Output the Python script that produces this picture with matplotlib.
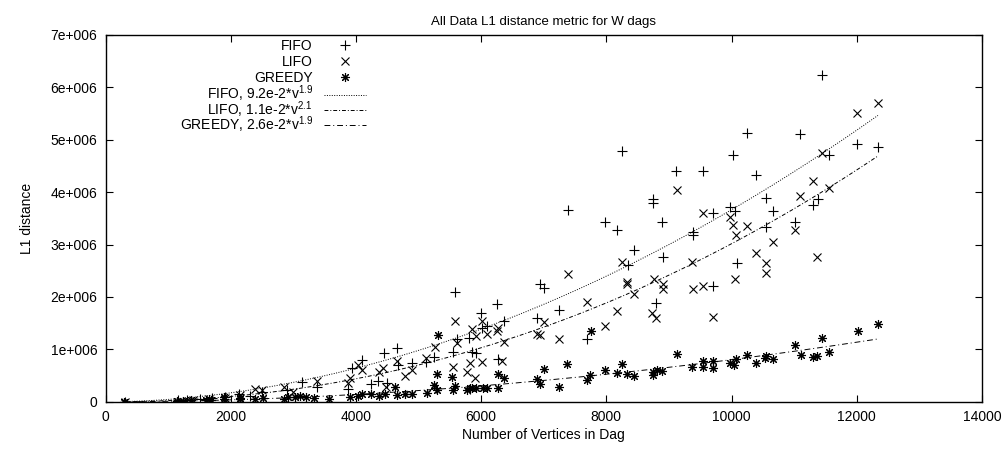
import numpy as np
import matplotlib
matplotlib.use('Agg')
import matplotlib.pyplot as plt

plt.rcParams['font.family'] = ['Liberation Sans', 'DejaVu Sans']
plt.rcParams['mathtext.fontset'] = 'custom'
plt.rcParams['mathtext.rm'] = 'Liberation Sans'
plt.rcParams['mathtext.it'] = 'Liberation Sans:italic'

# data: vertices, L1 distance in units of 1e6
fifo_v = [300, 1150, 1300, 1500, 1700, 1900, 2130, 2300, 2500, 2900, 3130, 3370, 3870, 3930,
          4090, 4240, 4350, 4440, 4490, 4650, 4670, 4890, 5110, 5240, 5270, 5550, 5580, 5610,
          5800, 5820, 5850, 5910, 5990, 6010, 6090, 6250, 6270, 6360, 6890, 6940, 7000, 7240,
          7380, 7690, 7980, 8170, 8250, 8340, 8440, 8740, 8750, 8790, 8890, 8900, 9110, 9380,
          9380, 9540, 9700, 9700, 9970, 10020, 10050, 10090, 10250, 10390, 10550, 10550, 10660,
          11010, 11090, 11300, 11380, 11440, 11560, 12000, 12340]
fifo_l = [0.005, 0.03, 0.04, 0.05, 0.07, 0.09, 0.15, 0.12, 0.18, 0.22, 0.38, 0.29, 0.25, 0.65,
          0.80, 0.34, 0.40, 0.93, 0.36, 1.03, 0.71, 0.74, 0.76, 0.86, 0.27, 0.95, 2.10, 1.20,
          1.22, 0.25, 0.95, 0.93, 1.70, 1.41, 1.45, 1.87, 0.82, 1.55, 1.60, 2.25, 2.18, 1.76,
          3.65, 1.20, 3.42, 3.28, 4.79, 2.61, 2.90, 3.87, 3.80, 1.89, 3.42, 2.77, 4.41, 3.24,
          3.19, 4.41, 3.61, 2.20, 3.72, 4.71, 3.63, 2.65, 5.13, 4.33, 3.89, 3.34, 3.63,
          3.42, 5.11, 3.76, 3.87, 6.24, 4.71, 4.92, 4.85]

lifo_v = [300, 1200, 1400, 1650, 1900, 2140, 2380, 2500, 2850, 3000, 3370, 3870, 3900, 4030,
          4090, 4360, 4430, 4480, 4650, 4780, 4890, 5110, 5260, 5550, 5580, 5610, 5770, 5820,
          5850, 5900, 5910, 6010, 6010, 6090, 6250, 6270, 6330, 6360, 6890, 6940, 7000, 7240,
          7380, 7690, 7980, 8170, 8250, 8330, 8330, 8440, 8730, 8760, 8790, 8900, 8900, 9130,
          9370, 9380, 9540, 9540, 9700, 9970, 10020, 10050, 10070, 10250, 10390, 10550, 10550,
          10660, 11010, 11090, 11300, 11360, 11440, 11560, 12000, 12340]
lifo_l = [0.005, 0.02, 0.03, 0.05, 0.07, 0.13, 0.25, 0.22, 0.29, 0.18, 0.40, 0.36, 0.46, 0.71,
          0.61, 0.57, 0.65, 0.29, 0.78, 0.50, 0.60, 0.84, 1.05, 0.67, 1.55, 1.13, 0.57, 0.74,
          1.39, 0.46, 1.26, 1.55, 0.76, 1.30, 1.36, 1.41, 0.78, 1.15, 1.30, 1.28, 1.53, 1.20,
          2.44, 1.91, 1.45, 1.74, 2.67, 2.29, 2.25, 2.06, 1.70, 2.35, 1.60, 2.25, 2.16, 4.03,
          2.67, 2.16, 3.61, 2.21, 1.62, 3.53, 3.38, 2.35, 3.19, 3.36, 2.84, 2.65, 2.46,
          3.05, 3.28, 3.93, 4.22, 2.77, 4.75, 4.08, 5.51, 5.69]

greedy_v = [290, 1140, 1230, 1370, 1610, 1690, 1650, 1890, 1890, 2140, 2140, 2380, 2510, 2850,
            2910, 3030, 3100, 3200, 3330, 3570, 3900, 4030, 4090, 4240, 4360, 4470, 4630, 4650,
            4780, 4890, 5130, 5240, 5290, 5290, 5310, 5530, 5580, 5550, 5820, 5850, 5910, 5780,
            6030, 6090, 6270, 6270, 6360, 6890, 6940, 7000, 7240, 7370, 7690, 7740, 7750, 7980,
            8170, 8250, 8330, 8440, 8740, 8740, 8810, 8890, 9130, 9370, 9700, 9700, 9540, 9540,
            9970, 10040, 10070, 10250, 10390, 10530, 10550, 10660, 11010, 11110, 11300, 11360,
            11440, 11560, 12020, 12340]
greedy_l = [0.003, 0.02, 0.02, 0.03, 0.04, 0.03, 0.06, 0.05, 0.10, 0.05, 0.08, 0.06, 0.08, 0.06,
            0.10, 0.10, 0.12, 0.10, 0.08, 0.06, 0.10, 0.12, 0.15, 0.14, 0.11, 0.14, 0.29, 0.13,
            0.15, 0.15, 0.17, 0.32, 0.23, 0.53, 1.27, 0.48, 0.31, 0.23, 0.27, 0.27, 0.27, 0.23,
            0.27, 0.27, 0.27, 0.53, 0.46, 0.44, 0.34, 0.63, 0.29, 0.73, 0.42, 0.52, 1.36, 0.61,
            0.55, 0.73, 0.53, 0.50, 0.57, 0.52, 0.61, 0.59, 0.92, 0.67, 0.78, 0.65, 0.78, 0.67,
            0.74, 0.71, 0.82, 0.90, 0.74, 0.84, 0.88, 0.82, 1.09, 0.90, 0.86, 0.88,
            1.22, 0.95, 1.36, 1.49]

# power-law fits a*v^b, as drawn
fit_a = [0.092, 0.0120, 0.0202]
fit_b = [1.9, 2.1, 1.9]
fit_labels = ['FIFO, 9.2e-2*v$^{1.9}$', 'LIFO, 1.1e-2*v$^{2.1}$', 'GREEDY, 2.6e-2*v$^{1.9}$']
fit_range = [300, 12340]

fig = plt.figure(figsize=(10.07, 4.51), dpi=100)
ax = fig.add_axes([0.105, 0.109, 0.870, 0.814])

mk = dict(linestyle='none', color='black', markeredgewidth=0.8)
p1, = ax.plot(fifo_v, np.array(fifo_l) * 1e6, marker='+', markersize=6.5, label='FIFO', **mk)
p2, = ax.plot(lifo_v, np.array(lifo_l) * 1e6, marker='x', markersize=5.5, label='LIFO', **mk)
p3, = ax.plot(greedy_v, np.array(greedy_l) * 1e6, marker=(8, 2, 0), markersize=6.5,
              label='GREEDY', **mk)

v = np.linspace(fit_range[0], fit_range[1], 300)
styles = [(0, (1, 1.5)), (0, (4, 2, 1, 2)), (0, (6, 3, 1, 3))]
fit_lines = []
for a, b, lab, ls in zip(fit_a, fit_b, fit_labels, styles):
    ln, = ax.plot(v, a * v ** b, color='black', linewidth=0.7, linestyle=ls, label=lab)
    fit_lines.append(ln)

ax.set_xlim(0, 14000)
ax.set_ylim(0, 7e6)
ax.set_xticks(range(0, 14001, 2000))
yt = [i * 1e6 for i in range(8)]
ax.set_yticks(yt)
ax.set_yticklabels(['0'] + ['%de+006' % i for i in range(1, 8)])
ax.tick_params(direction='in', length=5, width=0.8, top=True, right=True, labelsize=10, pad=6)
for s in ax.spines.values():
    s.set_linewidth(1.0)

ax.set_xlabel('Number of Vertices in Dag', fontsize=10, labelpad=3)
ax.set_ylabel('L1 distance', fontsize=10, labelpad=12)
ax.set_title('All Data L1 distance metric for W dags', fontsize=9.5, pad=7)

leg_kw = dict(loc='upper right', bbox_transform=fig.transFigure, frameon=False,
              markerfirst=False, fontsize=10, handlelength=3, handletextpad=0.8,
              borderpad=0, borderaxespad=0)
leg1 = ax.legend(handles=[p1, p2, p3], bbox_to_anchor=(0.363, 0.913), labelspacing=0.12, **leg_kw)
ax.add_artist(leg1)
ax.legend(handles=fit_lines, bbox_to_anchor=(0.363, 0.814), labelspacing=-0.4, **leg_kw)

fig.savefig('out.png', dpi=100)
